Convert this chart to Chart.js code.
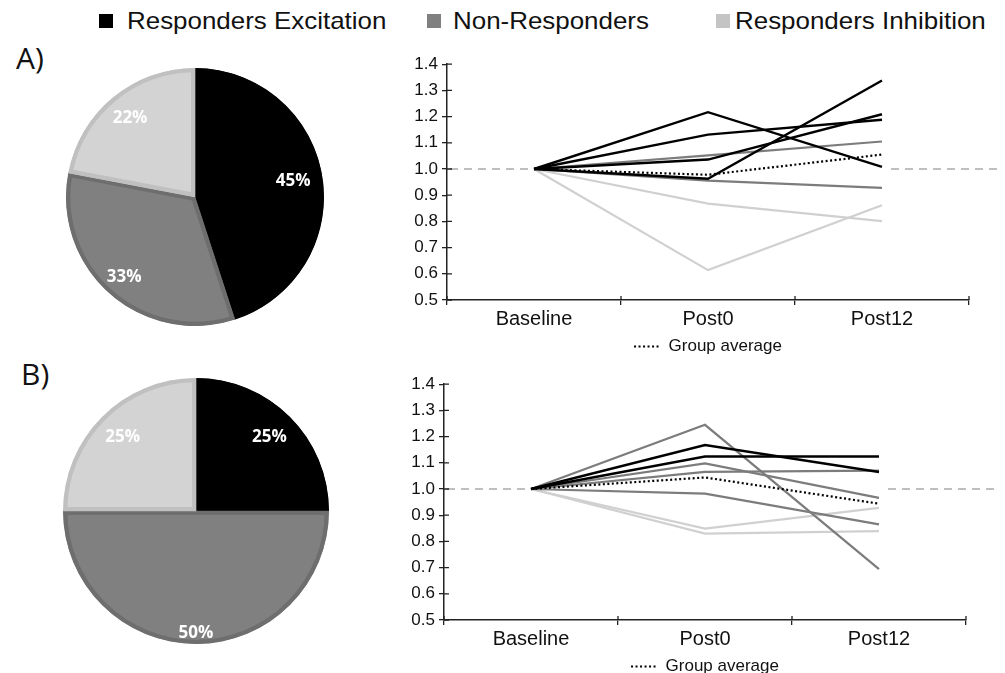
<!DOCTYPE html>
<html>
<head>
<meta charset="utf-8">
<script src="https://cdn.jsdelivr.net/npm/chart.js@4"></script>
<style>
  body { margin: 0; width: 1005px; height: 673px; overflow: hidden; position: relative; background: #fff; font-family: "Liberation Sans", Arial, sans-serif; }
  canvas { position: absolute; }
  .leg { position: absolute; top: 8px; font-size: 24px; line-height: 26px; color: #111; white-space: nowrap; transform-origin: left center; transform: scaleX(1.08); }
  .sq { position: absolute; top: 14px; width: 14px; height: 14px; }
  .panel { position: absolute; font-family: "Open Sans", sans-serif; font-size: 30px; line-height: 30px; color: #111; }
</style>
</head>
<body>
<div class="sq" style="left:99px;background:#000"></div>
<div class="leg" style="left:127px">Responders Excitation</div>
<div class="sq" style="left:427px;background:#808080"></div>
<div class="leg" style="left:453px">Non-Responders</div>
<div class="sq" style="left:716px;background:#c4c4c4"></div>
<div class="leg" style="left:735px">Responders Inhibition</div>
<div class="panel" style="left:16px;top:43px">A)</div>
<div class="panel" style="left:21px;top:359px">B)</div>

<canvas id="pieA" width="270" height="270" style="left:60px;top:62px"></canvas>
<canvas id="pieB" width="270" height="270" style="left:61px;top:376px"></canvas>
<canvas id="lineA" width="600" height="315" style="left:400px;top:50px"></canvas>
<canvas id="lineB" width="600" height="315" style="left:397px;top:370px"></canvas>

<script>
const groups = ['Responders Excitation', 'Non-Responders', 'Responders Inhibition'];
const categories = ['Baseline', 'Post0', 'Post12'];

// pie shares (%)
const pieA = [45, 33, 22];
const pieB = [25, 50, 25];

// A) individual ratios to baseline
const aExc1 = [1, 1.217, 1.008];
const aExc2 = [1, 1.131, 1.188];
const aExc3 = [1, 1.036, 1.209];
const aExc4 = [1, 0.963, 1.338];
const aNon1 = [1, 1.052, 1.105];
const aNon2 = [1, 0.956, 0.928];
const aInh1 = [1, 0.868, 0.801];
const aInh2 = [1, 0.614, 0.862];
const aAvg  = [1, 0.978, 1.055];

// B)
const bExc1 = [1, 1.168, 1.065];
const bExc2 = [1, 1.124, 1.124];
const bNon1 = [1, 1.245, 0.694];
const bNon2 = [1, 1.098, 0.966];
const bNon3 = [1, 1.065, 1.070];
const bNon4 = [1, 0.982, 0.865];
const bInh1 = [1, 0.849, 0.928];
const bInh2 = [1, 0.830, 0.839];
const bAvg  = [1, 1.044, 0.944];

const BLACK = '#000', GRAY = '#7c7c7c', LIGHT = '#d0d0d0';
const AXIS = '#222';
const DOTS = [2, 2.5];

// percentage labels inside slices
const sliceLabels = {
  id: 'sliceLabels',
  afterDatasetsDraw(chart, args, opts) {
    const { ctx } = chart;
    const ds = chart.data.datasets[0];
    ctx.save();
    ctx.fillStyle = '#fff';
    ctx.font = 'bold 17px "Open Sans", sans-serif';
    ctx.textAlign = 'center';
    ctx.textBaseline = 'middle';
    chart.getDatasetMeta(0).data.forEach((arc, i) => {
      const p = arc.getProps(['x', 'y', 'startAngle', 'endAngle', 'outerRadius'], true);
      const a = (p.startAngle + p.endAngle) / 2;
      const r = p.outerRadius * opts.radii[i];
      ctx.fillText(ds.data[i] + '%', p.x + Math.cos(a) * r, p.y + Math.sin(a) * r);
    });
    ctx.restore();
  }
};

function makePie(id, values, radius, radii) {
  new Chart(document.getElementById(id), {
    type: 'pie',
    data: {
      labels: groups,
      datasets: [{
        data: values,
        backgroundColor: [BLACK, '#808080', '#d3d3d3'],
        borderColor: [BLACK, '#6e6e6e', '#c0c0c0'],
        borderWidth: 4,
        borderAlign: 'inner',
        radius: radius
      }]
    },
    options: {
      responsive: false,
      animation: false,
      plugins: { legend: { display: false }, tooltip: { enabled: false }, sliceLabels: { radii } }
    },
    plugins: [sliceLabels]
  });
}

// dashed 1.0 reference + ticks that cross the axes
const axisExtras = {
  id: 'axisExtras',
  beforeDatasetsDraw(chart) {
    const { ctx, chartArea, scales: { x, y } } = chart;
    const py = y.getPixelForValue(1);
    ctx.save();
    ctx.strokeStyle = '#aaa';
    ctx.lineWidth = 1.5;
    ctx.setLineDash([8, 6]);
    ctx.beginPath();
    ctx.moveTo(chartArea.left + 3, py);
    ctx.lineTo(x.getPixelForValue(0), py);
    ctx.moveTo(x.getPixelForValue(2) + 9, py);
    ctx.lineTo(chart.width - 2, py);
    ctx.stroke();
    ctx.setLineDash([]);
    ctx.strokeStyle = AXIS;
    ctx.lineWidth = 1.3;
    ctx.beginPath();
    y.ticks.forEach((t, i) => {
      const p = y.getPixelForTick(i);
      ctx.moveTo(chartArea.left, p);
      ctx.lineTo(chartArea.left + 5, p);
    });
    for (let i = 0; i <= categories.length; i++) {
      const p = chartArea.left + i * (chartArea.right - chartArea.left) / categories.length;
      ctx.moveTo(p, chartArea.bottom);
      ctx.lineTo(p, chartArea.bottom - 4);
    }
    ctx.stroke();
    ctx.restore();
  }
};

function line(label, data, color, width) {
  return { label, data, borderColor: color, backgroundColor: color, borderWidth: width, pointRadius: 0, tension: 0 };
}

function makeLines(id, sets, avg) {
  const datasets = [
    Object.assign(line('Group average', avg, BLACK, 2.2), { borderDash: DOTS })
  ].concat(sets);
  new Chart(document.getElementById(id), {
    type: 'line',
    data: { labels: categories, datasets },
    options: {
      responsive: false,
      animation: false,
      layout: { padding: { top: 13, right: 31, left: 0, bottom: 0 } },
      scales: {
        x: {
          offset: true,
          grid: { drawOnChartArea: false, offset: true, tickLength: 5, color: AXIS, lineWidth: 1.3 },
          border: { color: AXIS, width: 1.5 },
          ticks: { color: '#111', padding: 2, font: { family: '"Liberation Sans", Arial', size: 20 } },
          afterFit: s => { s.height = 30; }
        },
        y: {
          min: 0.5,
          max: 1.4,
          grid: { drawOnChartArea: false, tickLength: 5, color: AXIS, lineWidth: 1.3 },
          border: { color: AXIS, width: 1.5 },
          ticks: {
            stepSize: 0.1,
            color: '#111',
            padding: 4,
            font: { family: '"Liberation Sans", Arial', size: 17 },
            callback: v => Number(v).toFixed(1)
          },
          afterFit: s => { s.width = 47; }
        }
      },
      plugins: {
        tooltip: { enabled: false },
        legend: {
          position: 'bottom',
          fullSize: false,
          labels: {
            generateLabels: chart => Chart.defaults.plugins.legend.labels.generateLabels(chart)
              .filter(item => item.text === 'Group average')
              .map(item => Object.assign(item, { lineDash: DOTS, lineWidth: 2 })),
            usePointStyle: true,
            pointStyle: 'line',
            pointStyleWidth: 26,
            color: '#111',
            padding: 8,
            font: { family: '"Liberation Sans", Arial', size: 17 }
          }
        }
      }
    },
    plugins: [axisExtras]
  });
}

makePie('pieA', pieA, 129, [0.77, 0.83, 0.79]);
makePie('pieB', pieB, 133, [0.78, 0.92, 0.78]);

makeLines('lineA', [
  line('Exc 1', aExc1, BLACK, 2.4),
  line('Exc 2', aExc2, BLACK, 2.4),
  line('Exc 3', aExc3, BLACK, 2.4),
  line('Exc 4', aExc4, BLACK, 2.4),
  line('Non 1', aNon1, GRAY, 2.2),
  line('Non 2', aNon2, GRAY, 2.2),
  line('Inh 1', aInh1, LIGHT, 2.2),
  line('Inh 2', aInh2, LIGHT, 2.2)
], aAvg);

makeLines('lineB', [
  line('Exc 1', bExc1, BLACK, 2.4),
  line('Exc 2', bExc2, BLACK, 2.4),
  line('Non 1', bNon1, GRAY, 2.2),
  line('Non 2', bNon2, GRAY, 2.2),
  line('Non 3', bNon3, GRAY, 2.2),
  line('Non 4', bNon4, GRAY, 2.2),
  line('Inh 1', bInh1, LIGHT, 2.2),
  line('Inh 2', bInh2, LIGHT, 2.2)
], bAvg);
</script>
</body>
</html>
